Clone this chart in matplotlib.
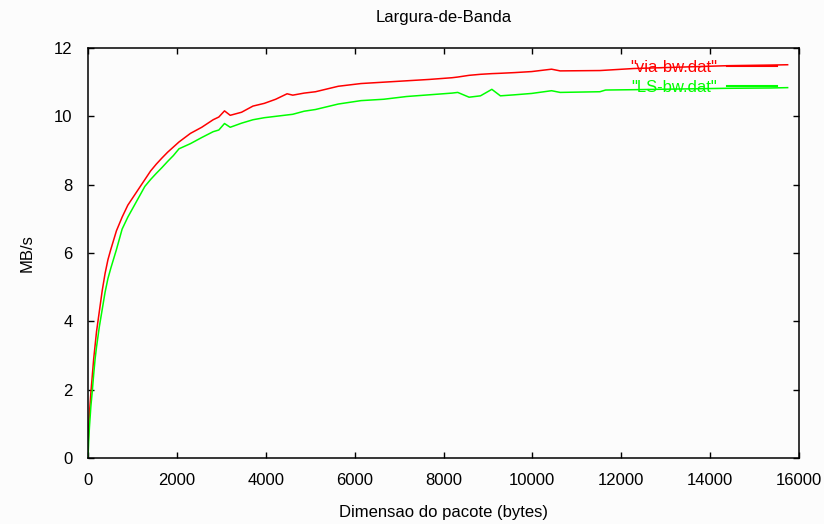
import matplotlib
matplotlib.use("Agg")
import matplotlib.pyplot as plt
from matplotlib.ticker import MultipleLocator

# packet size (bytes)
x = [0, 16, 32, 64, 96, 128, 160, 192, 256, 320, 384, 448, 512, 640, 768, 896,
     1024, 1152, 1280, 1408, 1536, 1664, 1792, 1920, 2048, 2304, 2560, 2816,
     2944, 3072, 3200, 3456, 3712, 3968, 4224, 4480, 4608, 4864, 5120, 5632,
     6144, 6656, 7168, 7680, 8192, 8320, 8576, 8832, 9088, 9280, 9600, 9984,
     10432, 10624, 11520, 11648, 12288, 13312, 14336, 15360, 15744]

via_bw = [0.3, 0.9, 1.3, 1.9, 2.4, 2.9, 3.3, 3.7, 4.3, 4.9, 5.4, 5.8, 6.1,
          6.65, 7.05, 7.4, 7.65, 7.9, 8.15, 8.4, 8.6, 8.78, 8.95, 9.1, 9.25, 9.5,
          9.68, 9.9, 9.98, 10.16, 10.03, 10.12, 10.3, 10.38, 10.5, 10.66, 10.62,
          10.68, 10.72, 10.88, 10.96, 11.0, 11.04, 11.08, 11.13, 11.15, 11.2,
          11.23, 11.25, 11.26, 11.28, 11.31, 11.38, 11.33, 11.34, 11.35, 11.4,
          11.44, 11.48, 11.5, 11.51]

ls_bw = [0.0, 0.5, 0.9, 1.5, 1.95, 2.45, 2.9, 3.25, 3.85, 4.35, 4.85, 5.25, 5.55,
         6.1, 6.7, 7.05, 7.35, 7.65, 7.95, 8.15, 8.33, 8.5, 8.68, 8.85, 9.05,
         9.2, 9.38, 9.55, 9.6, 9.79, 9.68, 9.8, 9.9, 9.96, 10.0, 10.04, 10.06,
         10.15, 10.2, 10.36, 10.46, 10.5, 10.58, 10.63, 10.68, 10.7, 10.56,
         10.6, 10.79, 10.6, 10.63, 10.67, 10.75, 10.7, 10.72, 10.77, 10.78,
         10.8, 10.82, 10.83, 10.84]

labels = ['"via-bw.dat"', '"LS-bw.dat"']
colors = ['#ff0000', '#00ff00']

tick_font = ['Liberation Sans', 'DejaVu Sans']

fig = plt.figure(figsize=(8.24, 5.24), dpi=100, facecolor='#fcfcfc')
ax = fig.add_axes([88/824, 1-458/524, (799-88)/824, (458-48)/524])
ax.set_facecolor('#fcfcfc')

ax.plot(x, via_bw, color=colors[0], lw=1.1, label=labels[0])
ax.plot(x, ls_bw, color=colors[1], lw=1.1, label=labels[1])

ax.set_xlim(0, 16000)
ax.set_ylim(0, 12)
ax.xaxis.set_major_locator(MultipleLocator(2000))
ax.yaxis.set_major_locator(MultipleLocator(2))
ax.tick_params(direction='in', length=4, width=1, top=True, right=True,
               colors='black', pad=11)
for lab in ax.get_xticklabels() + ax.get_yticklabels():
    lab.set_family(tick_font)
    lab.set_fontsize(12)
for sp in ax.spines.values():
    sp.set_linewidth(1.1)
    sp.set_color('black')

ax.set_xlabel('Dimensao do pacote (bytes)', family=tick_font, fontsize=12, labelpad=12)
ax.set_ylabel('MB/s', family=tick_font, fontsize=12, labelpad=14)
ax.set_title('Largura-de-Banda', family=['Liberation Sans', 'DejaVu Sans'],
             fontsize=12, pad=19)

leg = ax.legend(loc='upper right', bbox_to_anchor=(0.969, 0.970), frameon=False,
                markerfirst=False, labelcolor='linecolor', handlelength=3.0,
                handletextpad=0.6, borderpad=0, borderaxespad=0,
                labelspacing=0.3, prop={'family': tick_font, 'size': 12})
for h in leg.get_lines():
    h.set_linewidth(1.5)

fig.savefig('out.png', dpi=100, facecolor=fig.get_facecolor())
